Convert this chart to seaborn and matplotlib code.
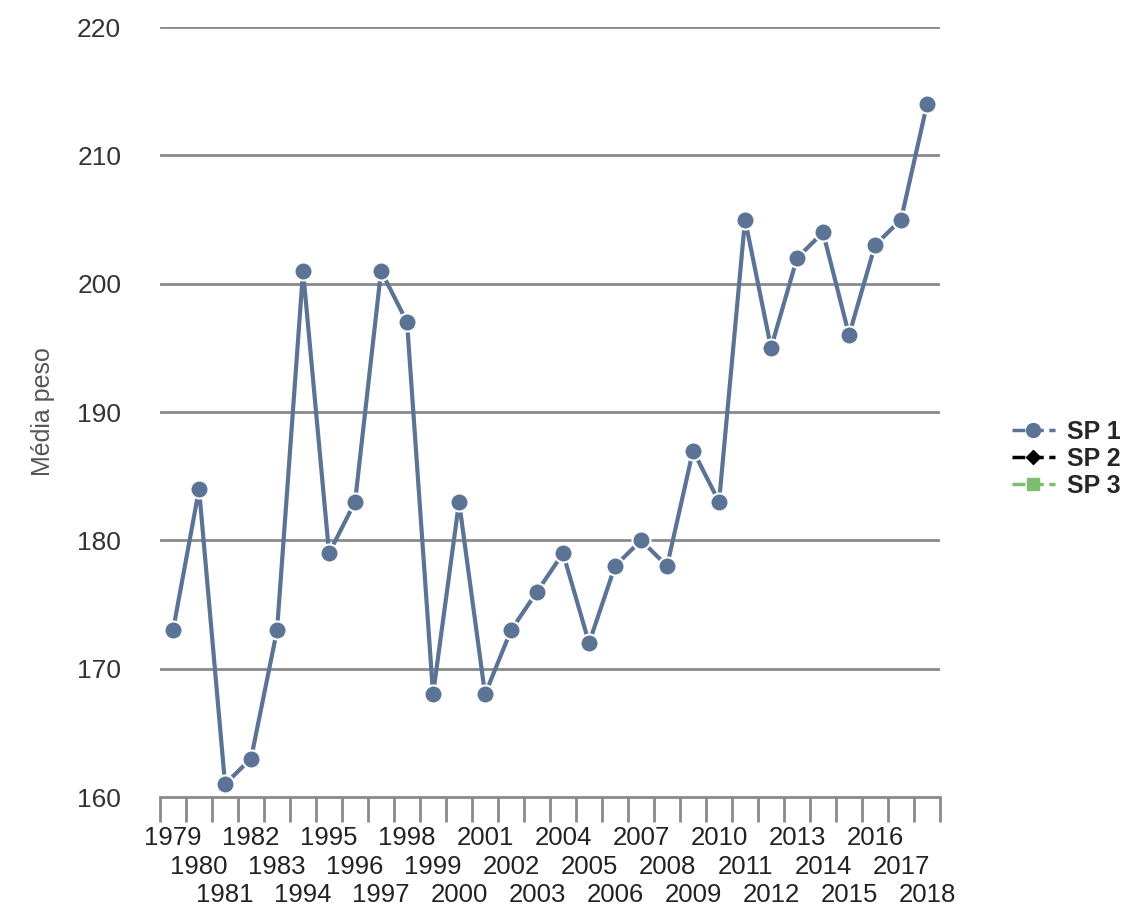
import pandas as pd
import numpy as np
import matplotlib
matplotlib.use("Agg")
import matplotlib.pyplot as plt
from matplotlib.lines import Line2D
import seaborn as sns

# data
anos = ["1979", "1980", "1981", "1982", "1983", "1994", "1995", "1996", "1997", "1998",
        "1999", "2000", "2001", "2002", "2003", "2004", "2005", "2006", "2007", "2008",
        "2009", "2010", "2011", "2012", "2013", "2014", "2015", "2016", "2017", "2018"]
peso_sp1 = [173, 184, 161, 163, 173, 201, 179, 183, 201, 197,
            168, 183, 168, 173, 176, 179, 172, 178, 180, 178,
            187, 183, 205, 195, 202, 204, 196, 203, 205, 214]
series = ["SP 1", "SP 2", "SP 3"]
y_ticks = [160, 170, 180, 190, 200, 210, 220]

df = pd.DataFrame({"pos": np.arange(len(anos)), "ano": anos, "peso": peso_sp1, "serie": "SP 1"})

sns.set_style("white")
plt.rcParams["font.family"] = ["Liberation Sans", "DejaVu Sans"]

fig = plt.figure(figsize=(11.4, 9.23), dpi=100)
ax = fig.add_axes([0.1404, 0.1365, 0.6842, 0.8342])

c1 = "#5B7394"
sns.lineplot(data=df, x="pos", y="peso", ax=ax, color=c1, linewidth=3,
             marker="o", markersize=13, markeredgecolor="white", markeredgewidth=1.5,
             clip_on=False, zorder=3, legend=False)

ax.set_xlim(-0.5, len(anos) - 0.5)
ax.set_ylim(160, 220)
ax.set_yticks(y_ticks)
ax.set_yticklabels([str(t) for t in y_ticks], fontsize=19, color="#333333")
for t in y_ticks[1:]:
    ax.axhline(t, color="#8a8a8a", linewidth=2, zorder=1)

# year labels staggered in three rows
ax.set_xticks(np.arange(len(anos)))
ax.set_xticklabels(anos, fontsize=18.5, color="#222222")
ax.tick_params(axis="x", which="major", length=0)
for i, tk in enumerate(ax.xaxis.get_major_ticks()):
    tk.set_pad(21 + 20.5 * (i % 3))
ax.set_xticks(np.arange(len(anos) + 1) - 0.5, minor=True)
ax.tick_params(axis="x", which="minor", bottom=True, length=18, width=2,
               color="#8a8a8a", direction="out")
ax.tick_params(axis="y", length=0, pad=28)

for s in ["top", "right", "left"]:
    ax.spines[s].set_visible(False)
ax.spines["bottom"].set_color("#8a8a8a")
ax.spines["bottom"].set_linewidth(2)

ax.set_xlabel("")
ax.set_ylabel("Média peso", fontsize=18, color="#555555", labelpad=16)

handles = [
    Line2D([0], [0], color=c1, linestyle="--", linewidth=2.5, marker="o", markersize=10),
    Line2D([0], [0], color="black", linestyle="--", linewidth=2.5, marker="D", markersize=7),
    Line2D([0], [0], color="#7DBE6E", linestyle="--", linewidth=2.5, marker="s", markersize=9),
]
fig.legend(handles, series, loc="center left", bbox_to_anchor=(0.868, 0.503),
           frameon=False, handlelength=1.7, handletextpad=0.5, labelspacing=0.12,
           prop={"size": 18, "weight": "bold"})

fig.savefig("out.png", dpi=100)
